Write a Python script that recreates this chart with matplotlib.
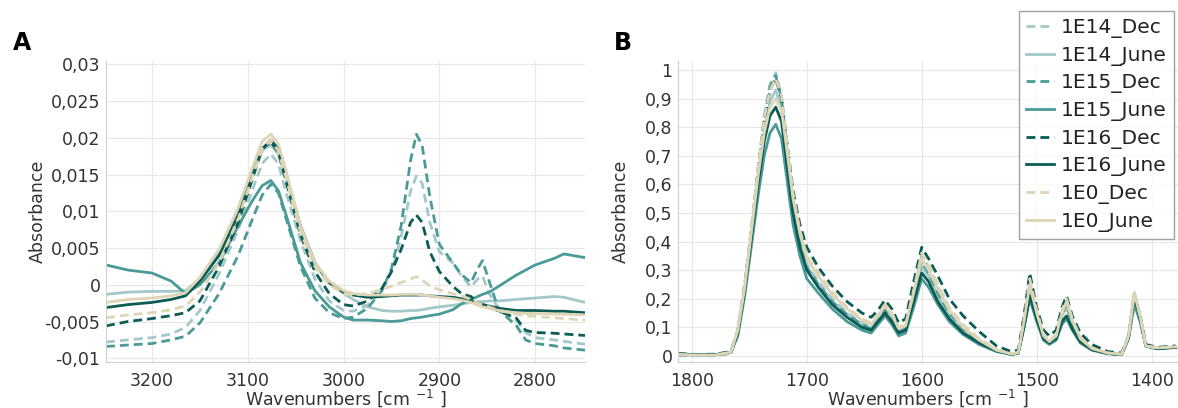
import matplotlib
matplotlib.use("Agg")
import matplotlib.pyplot as plt

# --- Panel A: C-H stretching region ---
wn_a = [3248, 3225, 3200, 3180, 3165, 3150, 3130, 3110, 3095, 3085,
        3076, 3068, 3060, 3045, 3030, 3015, 3000, 2990, 2975, 2960,
        2950, 2940, 2930, 2924, 2918, 2910, 2900, 2886, 2877, 2867,
        2860, 2855, 2848, 2838, 2820, 2810, 2800, 2780, 2770, 2748]

a_1e14_dec = [-0.0078, -0.0075, -0.0072, -0.0067, -0.0058, -0.0035, 0.0015, 0.0075, 0.013, 0.0165,
              0.0178, 0.0165, 0.0125, 0.006, 0.0008, -0.0022, -0.0035, -0.0036, -0.0028, -0.0008,
              0.0018, 0.0065, 0.0128, 0.0148, 0.0138, 0.0085, 0.0045, 0.003, 0.0012, -0.0003,
              0.0008, 0.0012, -0.0012, -0.0033, -0.0048, -0.0065, -0.0072, -0.0075, -0.0077, -0.0081]
a_1e14_june = [-0.0013, -0.0010, -0.0009, -0.0009, -0.0008, 0.0008, 0.0045, 0.0100, 0.0155, 0.0183,
               0.0190, 0.0178, 0.0145, 0.0075, 0.0028, 0.0003, -0.0012, -0.0020, -0.0030, -0.0035,
               -0.0036, -0.0036, -0.0035, -0.0035, -0.0034, -0.0032, -0.0030, -0.0028, -0.0026, -0.0024,
               -0.0023, -0.0023, -0.0022, -0.0022, -0.0020, -0.0019, -0.0018, -0.0016, -0.0017, -0.0024]
a_1e15_dec = [-0.0084, -0.0082, -0.0080, -0.0075, -0.0070, -0.0052, -0.0012, 0.0040, 0.0090, 0.0122,
              0.0137, 0.0125, 0.0090, 0.0025, -0.0018, -0.0038, -0.0046, -0.0044, -0.0032, -0.0008,
              0.0022, 0.0080, 0.0170, 0.0205, 0.0190, 0.0120, 0.0055, 0.0030, 0.0014, 0.0003,
              0.0022, 0.0033, 0.0005, -0.0035, -0.0055, -0.0075, -0.0080, -0.0083, -0.0086, -0.0089]
a_1e15_june = [0.0027, 0.0020, 0.0016, 0.0005, -0.0012, 0.0000, 0.0030, 0.0080, 0.0115, 0.0135,
               0.0142, 0.0128, 0.0095, 0.0030, -0.0008, -0.0030, -0.0044, -0.0048, -0.0048, -0.0049,
               -0.0050, -0.0049, -0.0046, -0.0045, -0.0044, -0.0042, -0.0040, -0.0034, -0.0026, -0.0020,
               -0.0016, -0.0013, -0.0010, -0.0002, 0.0013, 0.0020, 0.0027, 0.0036, 0.0042, 0.0037]
a_1e16_dec = [-0.0056, -0.0050, -0.0046, -0.0042, -0.0038, -0.0022, 0.0025, 0.0085, 0.0145, 0.0185,
              0.0195, 0.0180, 0.0140, 0.0068, 0.0018, -0.0012, -0.0027, -0.0029, -0.0022, -0.0005,
              0.0018, 0.0048, 0.0085, 0.0095, 0.0085, 0.0045, 0.0018, -0.0002, -0.0012, -0.0016,
              -0.0025, -0.0027, -0.0030, -0.0036, -0.0045, -0.0062, -0.0065, -0.0066, -0.0067, -0.0069]
a_1e16_june = [-0.0031, -0.0027, -0.0024, -0.0020, -0.0015, 0.0005, 0.0040, 0.0095, 0.0150, 0.0185,
               0.0197, 0.0185, 0.0150, 0.0080, 0.0030, 0.0003, -0.0010, -0.0014, -0.0017, -0.0016,
               -0.0015, -0.0014, -0.0014, -0.0014, -0.0014, -0.0015, -0.0016, -0.0017, -0.0019, -0.0022,
               -0.0026, -0.0027, -0.0029, -0.0032, -0.0035, -0.0035, -0.0035, -0.0036, -0.0036, -0.0038]
a_1e0_dec = [-0.0045, -0.0041, -0.0038, -0.0034, -0.0029, -0.0010, 0.0030, 0.0090, 0.0148, 0.0185,
             0.0197, 0.0182, 0.0145, 0.0072, 0.0025, 0.0000, -0.0012, -0.0014, -0.0012, -0.0006,
             -0.0002, 0.0003, 0.0008, 0.0011, 0.0006, -0.0001, -0.0007, -0.0012, -0.0015, -0.0020,
             -0.0025, -0.0027, -0.0030, -0.0035, -0.0040, -0.0042, -0.0043, -0.0045, -0.0046, -0.0048]
a_1e0_june = [-0.0024, -0.0020, -0.0018, -0.0015, -0.0011, 0.0010, 0.0048, 0.0105, 0.0160, 0.0195,
              0.0205, 0.0192, 0.0155, 0.0080, 0.0030, 0.0005, -0.0008, -0.0012, -0.0014, -0.0014,
              -0.0014, -0.0013, -0.0013, -0.0013, -0.0014, -0.0015, -0.0017, -0.0019, -0.0021, -0.0024,
              -0.0028, -0.0030, -0.0032, -0.0035, -0.0038, -0.0039, -0.0039, -0.0040, -0.0040, -0.0041]

# --- Panel B: fingerprint region ---
wn_b = [1812, 1795, 1780, 1766, 1760, 1754, 1748, 1742, 1737, 1732,
        1727, 1722, 1717, 1712, 1706, 1700, 1690, 1678, 1665, 1652,
        1644, 1638, 1632, 1626, 1620, 1614, 1607, 1600, 1594, 1586,
        1576, 1564, 1550, 1535, 1522, 1516, 1511, 1506, 1500, 1494,
        1489, 1483, 1478, 1474, 1469, 1462, 1452, 1438, 1426, 1420,
        1415, 1410, 1405, 1395, 1379]

b_1e14_dec = [0.002, 0.0, 0.0, 0.01, 0.08, 0.24, 0.45, 0.67, 0.84, 0.95,
              0.99, 0.91, 0.72, 0.54, 0.41, 0.32, 0.26, 0.20, 0.15, 0.115,
              0.10, 0.13, 0.17, 0.14, 0.09, 0.10, 0.22, 0.35, 0.31, 0.24,
              0.16, 0.10, 0.055, 0.02, 0.005, 0.01, 0.12, 0.26, 0.15, 0.07,
              0.05, 0.07, 0.15, 0.19, 0.12, 0.06, 0.025, 0.008, 0.005, 0.07,
              0.22, 0.14, 0.035, 0.025, 0.03]
b_1e14_june = [0.004, 0.002, 0.002, 0.012, 0.08, 0.23, 0.43, 0.63, 0.79, 0.89,
               0.93, 0.86, 0.68, 0.51, 0.39, 0.31, 0.25, 0.19, 0.145, 0.11,
               0.095, 0.125, 0.16, 0.13, 0.085, 0.095, 0.20, 0.31, 0.28, 0.21,
               0.14, 0.09, 0.05, 0.02, 0.006, 0.01, 0.11, 0.24, 0.14, 0.065,
               0.045, 0.065, 0.14, 0.17, 0.11, 0.055, 0.025, 0.008, 0.005, 0.065,
               0.21, 0.13, 0.035, 0.025, 0.03]
b_1e15_dec = [0.003, 0.001, 0.001, 0.01, 0.08, 0.24, 0.44, 0.66, 0.83, 0.94,
              0.98, 0.90, 0.71, 0.53, 0.40, 0.31, 0.25, 0.19, 0.145, 0.11,
              0.095, 0.125, 0.16, 0.13, 0.085, 0.095, 0.21, 0.33, 0.29, 0.22,
              0.15, 0.095, 0.05, 0.018, 0.005, 0.01, 0.12, 0.25, 0.145, 0.065,
              0.045, 0.065, 0.145, 0.18, 0.115, 0.055, 0.022, 0.007, 0.004, 0.065,
              0.22, 0.14, 0.035, 0.025, 0.03]
b_1e15_june = [0.006, 0.004, 0.004, 0.012, 0.07, 0.21, 0.39, 0.57, 0.70, 0.78,
               0.81, 0.76, 0.61, 0.46, 0.35, 0.27, 0.22, 0.165, 0.12, 0.09,
               0.08, 0.11, 0.14, 0.11, 0.07, 0.08, 0.17, 0.27, 0.24, 0.18,
               0.12, 0.075, 0.04, 0.015, 0.005, 0.01, 0.10, 0.20, 0.12, 0.055,
               0.04, 0.055, 0.11, 0.13, 0.09, 0.045, 0.02, 0.008, 0.005, 0.06,
               0.18, 0.12, 0.035, 0.025, 0.03]
b_1e16_dec = [0.008, 0.005, 0.006, 0.015, 0.09, 0.25, 0.45, 0.66, 0.82, 0.93,
              0.97, 0.90, 0.74, 0.58, 0.46, 0.38, 0.31, 0.245, 0.19, 0.15,
              0.135, 0.16, 0.195, 0.165, 0.115, 0.13, 0.26, 0.38, 0.34, 0.28,
              0.20, 0.14, 0.085, 0.035, 0.015, 0.02, 0.14, 0.29, 0.17, 0.09,
              0.07, 0.09, 0.17, 0.21, 0.14, 0.08, 0.04, 0.015, 0.01, 0.07,
              0.21, 0.14, 0.04, 0.03, 0.035]
b_1e16_june = [0.007, 0.004, 0.004, 0.013, 0.08, 0.23, 0.42, 0.61, 0.75, 0.84,
               0.87, 0.82, 0.66, 0.50, 0.38, 0.30, 0.24, 0.18, 0.135, 0.10,
               0.09, 0.12, 0.15, 0.12, 0.08, 0.09, 0.19, 0.29, 0.26, 0.19,
               0.13, 0.08, 0.045, 0.018, 0.006, 0.01, 0.10, 0.21, 0.13, 0.06,
               0.045, 0.06, 0.12, 0.14, 0.095, 0.05, 0.022, 0.008, 0.005, 0.065,
               0.21, 0.13, 0.035, 0.025, 0.03]
b_1e0_dec = [0.004, 0.002, 0.002, 0.012, 0.09, 0.25, 0.46, 0.67, 0.83, 0.93,
             0.97, 0.91, 0.74, 0.57, 0.44, 0.35, 0.29, 0.225, 0.17, 0.13,
             0.115, 0.145, 0.18, 0.15, 0.10, 0.11, 0.23, 0.36, 0.32, 0.25,
             0.17, 0.11, 0.06, 0.022, 0.007, 0.012, 0.13, 0.27, 0.16, 0.075,
             0.055, 0.075, 0.16, 0.20, 0.13, 0.065, 0.028, 0.01, 0.006, 0.07,
             0.22, 0.14, 0.035, 0.028, 0.032]
b_1e0_june = [0.005, 0.003, 0.003, 0.013, 0.09, 0.24, 0.44, 0.64, 0.78, 0.87,
              0.90, 0.86, 0.71, 0.55, 0.43, 0.34, 0.28, 0.215, 0.165, 0.125,
              0.11, 0.14, 0.175, 0.145, 0.095, 0.105, 0.22, 0.34, 0.30, 0.235,
              0.16, 0.10, 0.055, 0.02, 0.007, 0.012, 0.12, 0.25, 0.15, 0.07,
              0.05, 0.07, 0.15, 0.19, 0.125, 0.06, 0.026, 0.01, 0.006, 0.07,
              0.22, 0.14, 0.035, 0.028, 0.032]

labels = ["1E14_Dec", "1E14_June", "1E15_Dec", "1E15_June",
          "1E16_Dec", "1E16_June", "1E0_Dec", "1E0_June"]
series_a = [a_1e14_dec, a_1e14_june, a_1e15_dec, a_1e15_june,
            a_1e16_dec, a_1e16_june, a_1e0_dec, a_1e0_june]
series_b = [b_1e14_dec, b_1e14_june, b_1e15_dec, b_1e15_june,
            b_1e16_dec, b_1e16_june, b_1e0_dec, b_1e0_june]

a_yticks = [-0.01, -0.005, 0, 0.005, 0.01, 0.015, 0.02, 0.025, 0.03]
a_yticklabels = ["-0,01", "-0,005", "0", "0,005", "0,01", "0,015", "0,02", "0,025", "0,03"]
a_xticks = [3200, 3100, 3000, 2900, 2800]
b_yticks = [0, 0.1, 0.2, 0.3, 0.4, 0.5, 0.6, 0.7, 0.8, 0.9, 1]
b_yticklabels = ["0", "0,1", "0,2", "0,3", "0,4", "0,5", "0,6", "0,7", "0,8", "0,9", "1"]
b_xticks = [1800, 1700, 1600, 1500, 1400]

# colours per dose, dashed = Dec, solid = June
colors = ["#a3c8ca", "#a3c8ca", "#4a9b97", "#4a9b97",
          "#0c5b55", "#0c5b55", "#ddd6b6", "#ddd6b6"]
dashed = [True, False, True, False, True, False, True, False]

fig = plt.figure(figsize=(11.78, 4.08), dpi=100)
ax_a = fig.add_axes([0.090, 0.113, 0.4066, 0.738])
ax_b = fig.add_axes([0.5756, 0.113, 0.4244, 0.738])


def style_axis(ax, xticks, yticks, yticklabels):
    ax.set_xticks(xticks)
    ax.set_xticklabels([str(t) for t in xticks])
    ax.set_yticks(yticks)
    ax.set_yticklabels(yticklabels)
    ax.grid(True, color="#e8e8e8", linewidth=0.9)
    ax.set_axisbelow(True)
    for side in ["top", "right"]:
        ax.spines[side].set_visible(False)
    for side in ["left", "bottom"]:
        ax.spines[side].set_color("#cfcfcf")
    ax.tick_params(axis="both", length=0, labelsize=12.5, colors="#333333")
    ax.tick_params(axis="x", pad=7)
    ax.tick_params(axis="y", pad=4)
    ax.set_xlabel(r"Wavenumbers [cm $^{-1}$ ]", fontsize=12.5, color="#333333")
    ax.xaxis.set_label_coords(0.5, -0.083)
    ax.set_ylabel("Absorbance", fontsize=12.5, color="#333333")


handles = []
for ys, lab, col, dsh in zip(series_a, labels, colors, dashed):
    ls = (0, (3.2, 1.8)) if dsh else "-"
    ax_a.plot(wn_a, ys, color=col, linestyle=ls, linewidth=2.0)

for ys, lab, col, dsh in zip(series_b, labels, colors, dashed):
    ls = (0, (3.2, 1.8)) if dsh else "-"
    h, = ax_b.plot(wn_b, ys, color=col, linestyle=ls, linewidth=2.0, label=lab)
    handles.append(h)

style_axis(ax_a, a_xticks, a_yticks, a_yticklabels)
ax_a.set_xlim(3248, 2748)
ax_a.set_ylim(-0.0105, 0.0305)
ax_a.yaxis.set_label_coords(-0.123, 0.5)

style_axis(ax_b, b_xticks, b_yticks, b_yticklabels)
ax_b.set_xlim(1812, 1377)
ax_b.set_ylim(-0.021, 1.032)
ax_b.yaxis.set_label_coords(-0.096, 0.5)

leg = fig.legend(handles=handles, loc="upper left", bbox_to_anchor=(1019 / 1178, 1 - 11 / 408),
                 fontsize=14.5, handlelength=1.4, handletextpad=0.35, labelspacing=0.38,
                 borderpad=0.35, borderaxespad=0, frameon=True, fancybox=False)
leg.get_frame().set_edgecolor("#8a8a8a")
leg.get_frame().set_linewidth(1.0)
for t in leg.get_texts():
    t.set_color("#222222")

# panel letters
fig.text(13 / 1178, 1 - 50 / 408, "A", fontsize=17, fontweight="bold", va="baseline")
fig.text(614 / 1178, 1 - 50 / 408, "B", fontsize=17, fontweight="bold", va="baseline")

fig.savefig("out.png", dpi=100)
plt.close(fig)
